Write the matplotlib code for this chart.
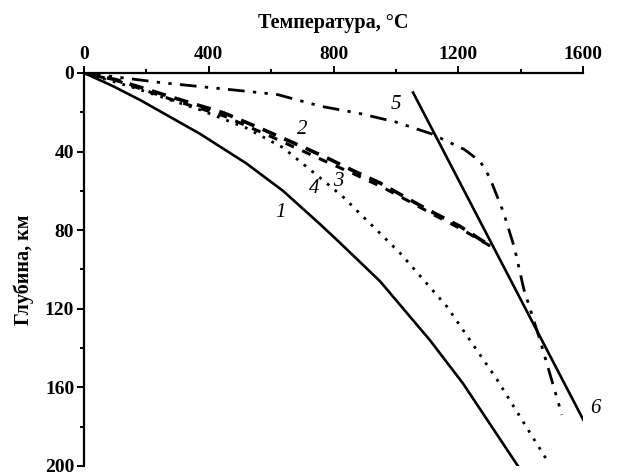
import numpy as np
import matplotlib.pyplot as plt
from matplotlib.ticker import MultipleLocator

# данные (температура, °C ; глубина, км)
t1 = [0, 90, 179, 372, 520, 638, 757, 811, 949, 1109, 1215, 1391]
z1 = [0, 6.5, 13.7, 31, 46, 60, 77, 85, 106, 136, 158, 200]

t2 = [0, 106, 289, 449, 577, 702, 789, 853, 949, 1045, 1119, 1205, 1308]
z2 = [0, 3.6, 12.7, 20.4, 29, 37.7, 44, 49, 56, 64.6, 71, 78, 88.6]

t3 = [0, 110, 290, 450, 580, 705, 795, 860, 955, 1050, 1125, 1210, 1308]
z3 = [0, 4.2, 14, 22, 31, 40, 46.5, 51, 58, 66, 72.5, 79.5, 88.6]

t4 = [0, 150, 372, 520, 638, 757, 830, 1013, 1164, 1324, 1484]
z4 = [0, 7, 18.8, 28, 38, 53.4, 63, 91.6, 119, 156, 197]

t5 = [0, 250, 500, 620, 760, 880, 1000, 1114, 1220, 1270, 1300, 1345, 1380, 1410, 1462, 1532]
z5 = [0, 5, 9, 11, 17, 20.5, 25, 31, 39, 45, 53, 71, 89, 110, 136, 174]

t6 = [1055, 1622]
z6 = [10, 183]

labels = ["1", "2", "3", "4", "5", "6"]
lab_t = [630, 700, 815, 737, 1000, 1640]
lab_z = [71, 29, 55, 59, 16, 171]

plt.rcParams['font.family'] = ['Liberation Serif', 'DejaVu Serif']
plt.rcParams['font.weight'] = 'bold'

fig = plt.figure(figsize=(6.29, 4.75), dpi=100)
ax = fig.add_axes([0.1335, 0.019, 0.7935, 0.8275])

ax.plot(t1, z1, color="black", linewidth=1.9, linestyle="-")
ax.plot(t2, z2, color="black", linewidth=2.6, linestyle=(0, (4, 2.5)))
ax.plot(t3, z3, color="black", linewidth=2.2, linestyle=(2, (3, 3)))
ax.plot(t4, z4, color="black", linewidth=2.0, linestyle=(0, (1, 2.6)))
ax.plot(t5, z5, color="black", linewidth=2.0, linestyle=(0, (6, 3, 1.2, 3, 1.2, 3)))
ax.plot(t6, z6, color="black", linewidth=1.9, linestyle="-")

for s, x, y in zip(labels, lab_t, lab_z):
    ax.text(x, y, s, fontsize=15, style="italic", fontweight="normal",
            ha="center", va="center")

# оси
ax.set_xlim(0, 1600)
ax.set_ylim(200, 0)
ax.spines["right"].set_visible(False)
ax.spines["bottom"].set_visible(False)
ax.spines["top"].set_linewidth(1.6)
ax.spines["left"].set_linewidth(1.6)
ax.xaxis.set_ticks_position("top")
ax.xaxis.set_label_position("top")
ax.xaxis.set_major_locator(MultipleLocator(400))
ax.xaxis.set_minor_locator(MultipleLocator(200))
ax.yaxis.set_major_locator(MultipleLocator(40))
ax.yaxis.set_minor_locator(MultipleLocator(20))
ax.tick_params(which="major", direction="out", length=5, width=1.4,
               labelsize=14, pad=2)
ax.tick_params(which="minor", direction="out", length=3, width=1.4)
for lab in ax.get_xticklabels() + ax.get_yticklabels():
    lab.set_fontweight("bold")

ax.set_xlabel("Температура, °С", fontsize=14.5, fontweight="bold", labelpad=13)
ax.set_ylabel("Глубина, км", fontsize=14.5, fontweight="bold", labelpad=8)

fig.savefig("out.png", dpi=100)
